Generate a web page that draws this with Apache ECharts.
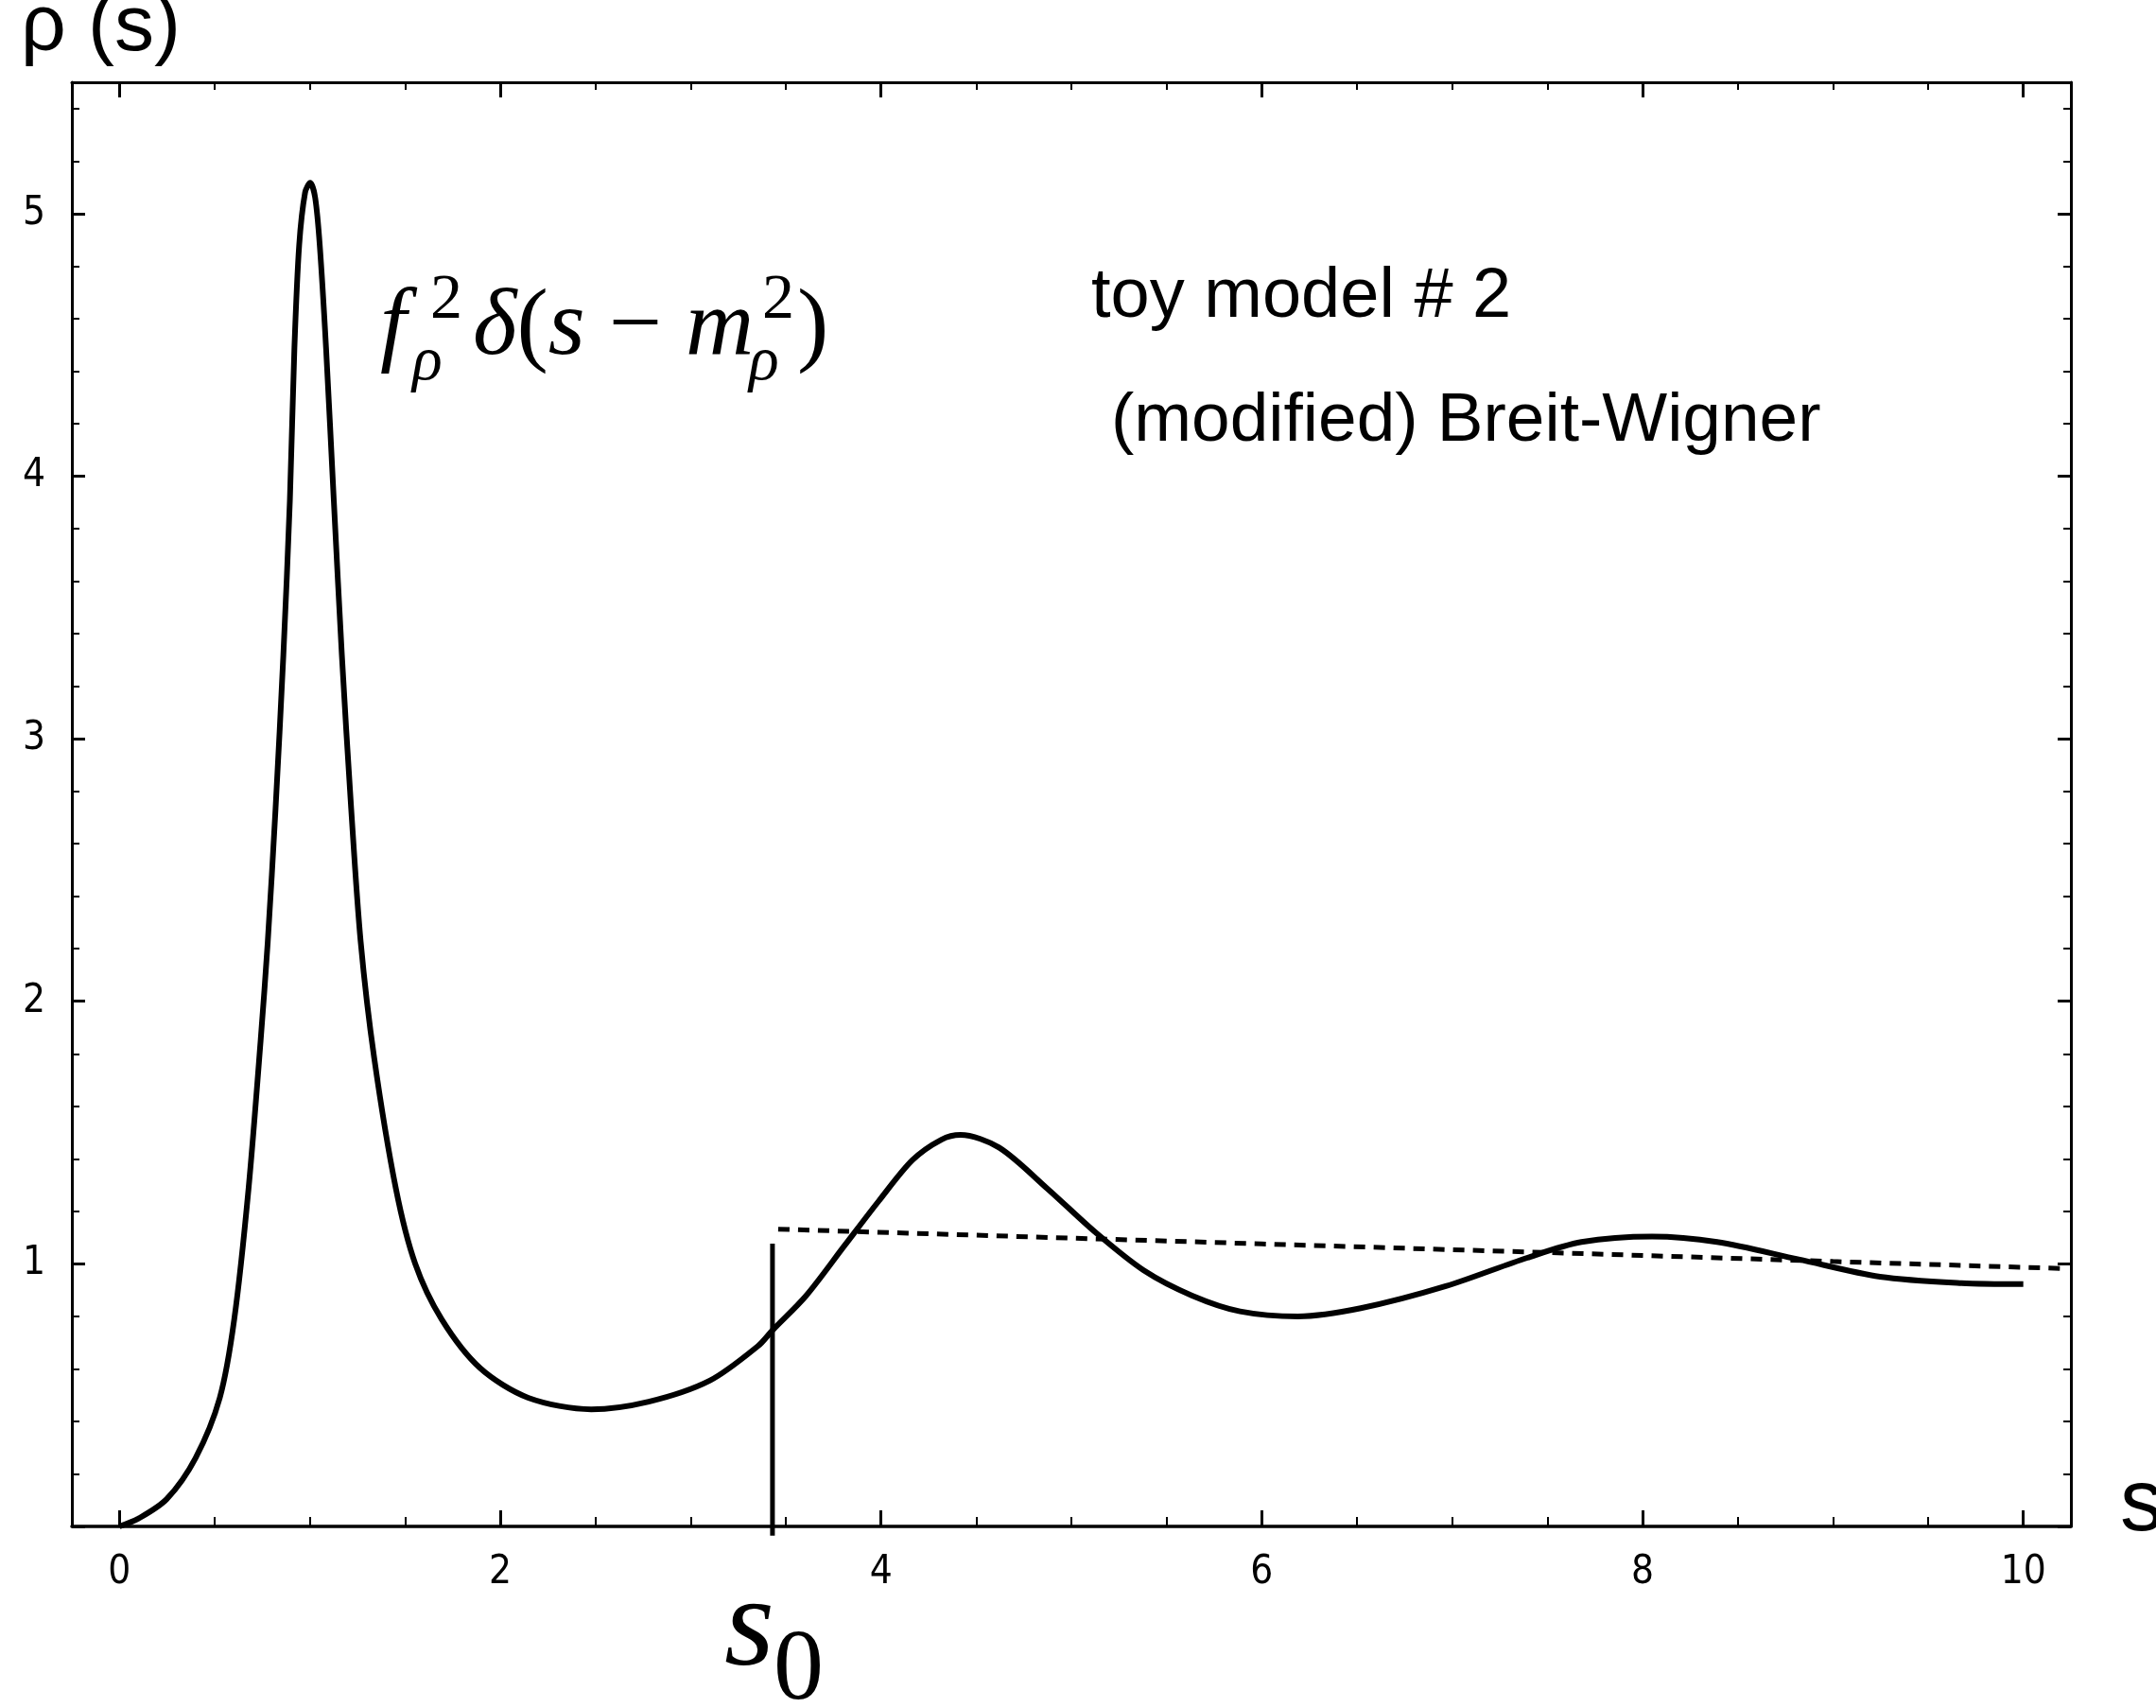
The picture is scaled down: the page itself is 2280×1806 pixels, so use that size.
<!DOCTYPE html>
<html>
<head>
<meta charset="utf-8">
<title>toy model # 2</title>
<script src="https://cdn.jsdelivr.net/npm/echarts@6.0.0/dist/echarts.min.js"></script>
<style>
  html, body { margin: 0; padding: 0; background: #fff; }
  #chart { width: 2280px; height: 1806px; }
</style>
</head>
<body>
<div id="chart"></div>
<script>
// spectral function rho(s)
const sVals = [0, 0.10, 0.248, 0.40, 0.527, 0.603, 0.678, 0.742, 0.779, 0.82, 0.861, 0.895, 0.919, 0.944, 0.975, 1.002,
  1.028, 1.052, 1.085, 1.126, 1.168, 1.217, 1.267, 1.338, 1.452, 1.553, 1.692, 1.894, 2.147, 2.478, 2.78, 3.10,
  3.354, 3.43, 3.607, 3.81, 3.988, 4.165, 4.317, 4.418, 4.62, 4.873, 5.128, 5.38, 5.634, 5.886, 6.19, 6.52,
  6.967, 7.394, 7.679, 8.05, 8.392, 8.82, 9.247, 9.675, 10.0];
const rhoVals = [0, 0.03, 0.104, 0.261, 0.49, 0.789, 1.286, 1.855, 2.227, 2.735, 3.32, 3.906, 4.49, 4.88, 5.08, 5.117,
  5.06, 4.88, 4.49, 3.906, 3.32, 2.735, 2.227, 1.784, 1.286, 1.001, 0.789, 0.603, 0.49, 0.446, 0.475, 0.555,
  0.687, 0.747, 0.879, 1.071, 1.239, 1.395, 1.473, 1.491, 1.443, 1.287, 1.119, 0.975, 0.879, 0.819, 0.80, 0.831,
  0.915, 1.023, 1.083, 1.104, 1.083, 1.017, 0.951, 0.927, 0.923];

// dotted continuum above s0
const dashS = [3.46, 5.0, 6.0, 7.0, 8.0, 9.0, 10.22];
const dashRho = [1.132, 1.098, 1.076, 1.054, 1.032, 1.009, 0.982];

// threshold marker s0
const s0S = [3.43, 3.43];
const s0Rho = [-0.035, 1.077];

// ticks
const xLabels = [0, 2, 4, 6, 8, 10];
const xMinor = [0, 0.5, 1, 1.5, 2, 2.5, 3, 3.5, 4, 4.5, 5, 5.5, 6, 6.5, 7, 7.5, 8, 8.5, 9, 9.5, 10];

const zip = (a, b) => a.map((v, i) => [v, b[i]]);

const labelFont = '"DejaVu Sans Condensed", "DejaVu Sans", sans-serif';
const serif = '"Liberation Serif", "DejaVu Serif", serif';
const sans = '"Liberation Sans", Arial, sans-serif';

const xBase = {
  type: 'value', min: -0.25, max: 10.25, gridIndex: 0,
  splitLine: { show: false },
  axisLine: { onZero: false, lineStyle: { color: '#000', width: 3 } }
};
const yBase = {
  type: 'value', min: 0, max: 5.5, interval: 1, gridIndex: 0,
  splitLine: { show: false },
  axisLine: { onZero: false, lineStyle: { color: '#000', width: 3 } },
  axisTick: { inside: true, length: 14, lineStyle: { color: '#000', width: 3 } },
  minorTick: { show: true, splitNumber: 5, length: 8, lineStyle: { color: '#000', width: 2 } }
};

const txt = (x, y, text, size, family, extra) => ({
  type: 'text', x, y,
  style: Object.assign({ text, fontSize: size, fontFamily: family, fill: '#000', verticalAlign: 'middle' }, extra || {})
});

const chart = echarts.init(document.getElementById('chart'));

chart.setOption({
  backgroundColor: '#fff',
  animation: false,
  grid: { left: 76, top: 87, width: 2114, height: 1527 },
  xAxis: [
    Object.assign({}, xBase, {
      position: 'bottom',
      axisLine: { onZero: false, lineStyle: { color: '#000', width: 3.5 } },
      axisTick: { inside: true, length: 10, customValues: xMinor, lineStyle: { color: '#000', width: 2 } },
      axisLabel: { customValues: xLabels, fontSize: 42, fontFamily: labelFont, color: '#000', margin: 28 }
    }),
    Object.assign({}, xBase, {
      position: 'bottom',
      axisLine: { show: false, onZero: false },
      axisTick: { inside: true, length: 17, customValues: xLabels, lineStyle: { color: '#000', width: 3 } },
      axisLabel: { show: false }
    }),
    Object.assign({}, xBase, {
      position: 'top',
      axisTick: { inside: true, length: 8, customValues: xMinor, lineStyle: { color: '#000', width: 2 } },
      axisLabel: { show: false }
    }),
    Object.assign({}, xBase, {
      position: 'top',
      axisLine: { show: false, onZero: false },
      axisTick: { inside: true, length: 16, customValues: xLabels, lineStyle: { color: '#000', width: 3 } },
      axisLabel: { show: false }
    })
  ],
  yAxis: [
    Object.assign({}, yBase, {
      position: 'left',
      axisLabel: {
        fontSize: 42, fontFamily: labelFont, color: '#000', margin: 28,
        formatter: v => (v > 0 && v <= 5 && Number.isInteger(v)) ? String(v) : ''
      }
    }),
    Object.assign({}, yBase, {
      position: 'right',
      axisLabel: { show: false }
    })
  ],
  series: [
    {
      type: 'line', name: 'rho', data: zip(sVals, rhoVals),
      smooth: 0.3, showSymbol: false, silent: true,
      lineStyle: { color: '#000', width: 6 }
    },
    {
      type: 'line', name: 'continuum', data: zip(dashS, dashRho),
      showSymbol: false, silent: true,
      lineStyle: { color: '#000', width: 5, type: [12, 9] }
    },
    {
      type: 'line', name: 's0', data: zip(s0S, s0Rho),
      showSymbol: false, silent: true, clip: false,
      lineStyle: { color: '#000', width: 5 }
    }
  ],
  graphic: [
    txt(22, 30, 'ρ (s)', 84, sans),
    txt(2242, 1593, 's', 92, sans),
    txt(1154, 315, 'toy model # 2', 74, sans),
    txt(1175, 446, '(modified) Breit-Wigner', 73, sans),
    // f_rho^2 delta(s - m_rho^2)
    txt(402, 348, 'f', 100, serif, { fontStyle: 'italic' }),
    txt(455, 318, '2', 68, serif),
    txt(436, 384, 'ρ', 66, serif, { fontStyle: 'italic' }),
    {
      type: 'text', x: 500, y: 348,
      style: {
        text: '{i|δ}{r|(}{i|s}{r| − }{i|m}',
        verticalAlign: 'middle', fill: '#000',
        rich: {
          i: { fontSize: 100, fontFamily: serif, fontStyle: 'italic', fill: '#000' },
          r: { fontSize: 100, fontFamily: serif, fill: '#000' }
        }
      }
    },
    txt(806, 318, '2', 68, serif),
    txt(792, 384, 'ρ', 66, serif, { fontStyle: 'italic' }),
    txt(843, 348, ')', 100, serif),
    // s_0
    txt(766, 1724, 's', 136, serif, { fontStyle: 'italic' }),
    txt(818, 1768, '0', 106, serif)
  ]
});

window.addEventListener('resize', () => {
  chart.resize();
});
</script>
</body>
</html>
